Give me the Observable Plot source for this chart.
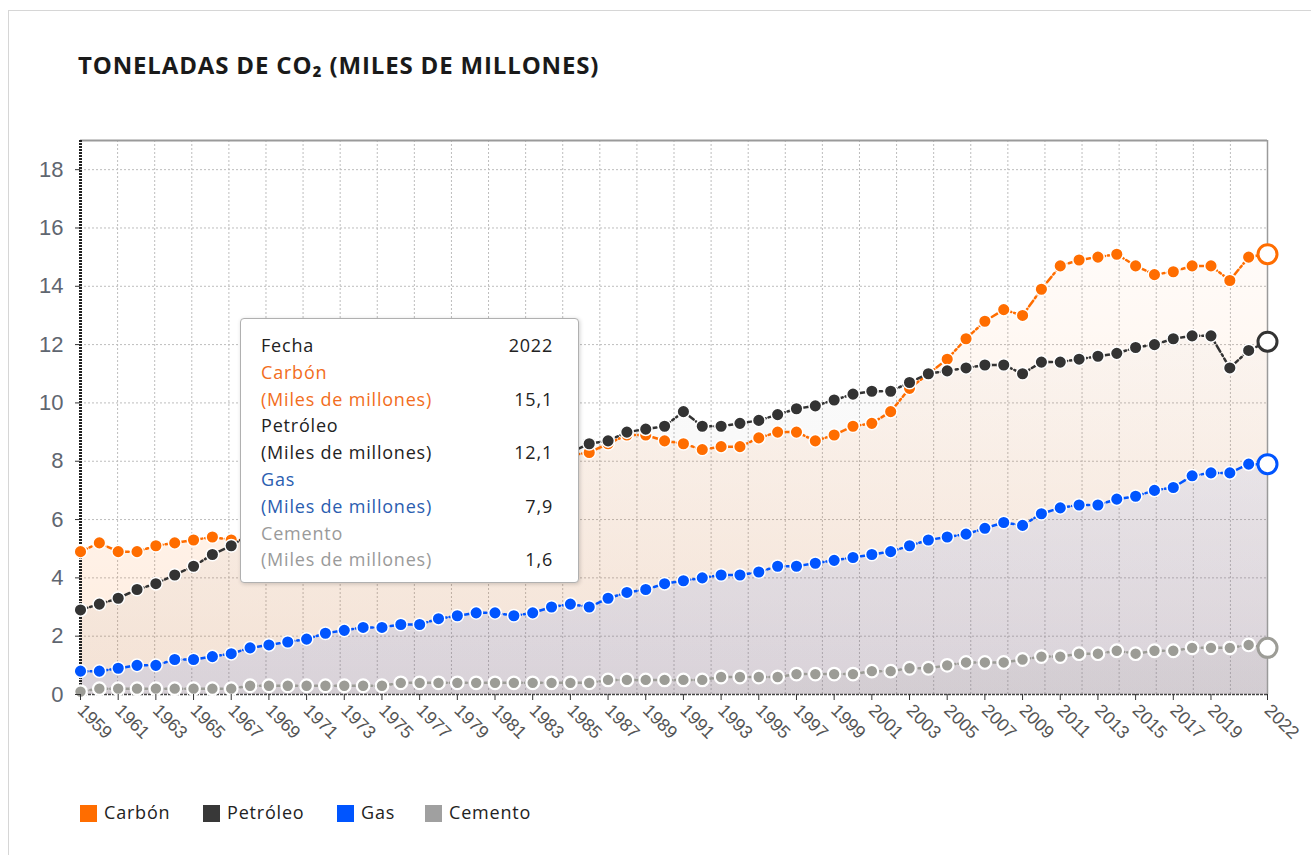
<!DOCTYPE html>
<html><head><meta charset="utf-8">
<script src="https://cdn.jsdelivr.net/npm/d3@7"></script>
<script src="https://cdn.jsdelivr.net/npm/@observablehq/plot@0.6"></script>
<style>
body{margin:0;background:#fff;font-family:"Open Sans",sans-serif;}
#frame{position:absolute;left:8px;top:10px;width:1400px;height:900px;border-left:1px solid #d6d6d6;border-top:1px solid #d6d6d6;}
#title{position:absolute;left:78px;top:48px;font:700 24px "Open Sans";color:#1a1a1a;letter-spacing:0.85px;}
#chart{position:absolute;left:0;top:100px;}
#tooltip{position:absolute;left:240px;top:318px;width:337px;height:263px;background:#fff;border:1.5px solid #b0b0b0;border-radius:4px;box-shadow:1px 1px 4px rgba(0,0,0,0.18);font:400 18px "Open Sans";letter-spacing:0.8px;}
#tooltip .row{position:absolute;left:20px;width:292px;height:26px;line-height:26px;}
#tooltip .row span.v{position:absolute;right:0;top:0;color:#222;}
#legend{position:absolute;left:0;top:800px;font:400 18px "Open Sans";color:#222;letter-spacing:0.8px;}
#legend .item{position:absolute;top:0;white-space:nowrap;height:24px;line-height:24px;}
#legend .sw{display:inline-block;width:17px;height:17px;vertical-align:-3px;margin-right:7px;}
</style></head>
<body>
<div id="frame"></div>
<div id="title">TONELADAS DE CO₂ (MILES DE MILLONES)</div>
<div id="chart"></div>
<div id="tooltip"></div>
<div id="legend"></div>
<script>
const years = [1959,1960,1961,1962,1963,1964,1965,1966,1967,1968,1969,1970,1971,1972,1973,1974,1975,1976,1977,1978,1979,1980,1981,1982,1983,1984,1985,1986,1987,1988,1989,1990,1991,1992,1993,1994,1995,1996,1997,1998,1999,2000,2001,2002,2003,2004,2005,2006,2007,2008,2009,2010,2011,2012,2013,2014,2015,2016,2017,2018,2019,2020,2021,2022];
const carbon = [4.9,5.2,4.9,4.9,5.1,5.2,5.3,5.4,5.3,
  5.3,5.4,5.5,5.5,5.6,5.6,5.8,5.8,6.1,6.2,6.5,6.7,6.8,6.8,7.0,7.4,7.8,8.2,
  8.3,8.6,8.9,8.9,8.7,8.6,8.4,8.5,8.5,8.8,9.0,9.0,8.7,8.9,9.2,9.3,9.7,10.5,11.0,11.5,12.2,12.8,13.2,13.0,13.9,14.7,14.9,15.0,15.1,14.7,14.4,14.5,14.7,14.7,14.2,15.0,15.1];
const petroleo = [2.9,3.1,3.3,3.6,3.8,4.1,4.4,4.8,5.1,
  5.5,6.0,6.5,6.9,7.4,7.9,7.7,7.6,8.1,8.3,8.6,8.5,8.1,7.9,7.8,7.8,8.0,8.3,
  8.6,8.7,9.0,9.1,9.2,9.7,9.2,9.2,9.3,9.4,9.6,9.8,9.9,10.1,10.3,10.4,10.4,10.7,11.0,11.1,11.2,11.3,11.3,11.0,11.4,11.4,11.5,11.6,11.7,11.9,12.0,12.2,12.3,12.3,11.2,11.8,12.1];
const gas = [0.8,0.8,0.9,1.0,1.0,1.2,1.2,1.3,1.4,1.6,
  1.7,1.8,1.9,2.1,2.2,2.3,2.3,2.4,2.4,2.6,
  2.7,2.8,2.8,2.7,2.8,3.0,3.1,3.0,3.3,3.5,
  3.6,3.8,3.9,4.0,4.1,4.1,4.2,4.4,4.4,4.5,
  4.6,4.7,4.8,4.9,5.1,5.3,5.4,5.5,5.7,5.9,
  5.8,6.2,6.4,6.5,6.5,6.7,6.8,7.0,7.1,7.5,
  7.6,7.6,7.9,7.9];
const cemento = [0.1,0.2,0.2,0.2,0.2,0.2,0.2,0.2,0.2,
  0.3,0.3,0.3,0.3,0.3,0.3,0.3,0.3,
  0.4,0.4,0.4,0.4,0.4,0.4,0.4,0.4,0.4,0.4,0.4,
  0.5,0.5,0.5,0.5,0.5,0.5,
  0.6,0.6,0.6,0.6,
  0.7,0.7,0.7,0.7,
  0.8,0.8,0.9,0.9,1.0,1.1,1.1,1.1,1.2,1.3,1.3,1.4,1.4,1.5,1.4,1.5,1.5,1.6,1.6,1.6,1.7,1.6];
const seriesNames = ["Carbón","Petróleo","Gas","Cemento"];
const seriesColors = ["#ff6d00","#333333","#0055ff","#9c9c96"];
const legendColors = ["#ff6d00","#383838","#0055ff","#a0a0a0"];
const tooltipColors = ["#f26d21","#222222","#2a5db0","#9a9a9a"];
const gradAlpha = [0.13,0.055,0.11,0.10];
const xTicks = [1959,1961,1963,1965,1967,1969,1971,1973,1975,1977,1979,1981,1983,1985,1987,1989,1991,1993,1995,1997,1999,2001,2003,2005,2007,2009,2011,2013,2015,2017,2019,2022];
const yTicks = [0,2,4,6,8,10,12,14,16,18];
const unitLabel = "(Miles de millones)";
const dateLabel = "Fecha";

const series = [carbon, petroleo, gas, cemento];
const data = series.map((vals, k) => years.map((year, i) => ({name: seriesNames[k], year, value: vals[i]})));

const W = 1311, H = 680, mL = 80, mR = 44, mT = 40, mB = 86;
const yMax = 19;
const x0 = years[0], x1 = years[years.length - 1];
const nGrid = 32;
const gridX = d3.range(1, nGrid).map(k => x0 + k * (x1 - x0) / nGrid);

const svgNS = "http://www.w3.org/2000/svg";
function defsMark(index, scales, values, dims) {
  const defs = document.createElementNS(svgNS, "defs");
  seriesColors.forEach((c, k) => {
    const g = document.createElementNS(svgNS, "linearGradient");
    g.setAttribute("id", "g" + k);
    g.setAttribute("gradientUnits", "userSpaceOnUse");
    g.setAttribute("x1", 0); g.setAttribute("x2", 0);
    g.setAttribute("y1", dims.marginTop);
    g.setAttribute("y2", dims.height - dims.marginBottom);
    const s1 = document.createElementNS(svgNS, "stop");
    s1.setAttribute("offset", "0"); s1.setAttribute("stop-color", c); s1.setAttribute("stop-opacity", 0);
    const s2 = document.createElementNS(svgNS, "stop");
    s2.setAttribute("offset", "1"); s2.setAttribute("stop-color", c); s2.setAttribute("stop-opacity", gradAlpha[k]);
    g.appendChild(s1); g.appendChild(s2);
    defs.appendChild(g);
  });
  return defs;
}

const marks = [defsMark];
marks.push(Plot.ruleY(yTicks.filter(d => d > 0), {stroke: "#bdbdbd", strokeWidth: 1, strokeDasharray: "2,2"}));
marks.push(Plot.ruleX(gridX, {y1: 0, y2: yMax, stroke: "#bdbdbd", strokeWidth: 1, strokeDasharray: "2,2"}));
data.forEach((d, k) => marks.push(Plot.areaY(d, {x: "year", y: "value", fill: `url(#g${k})`})));
marks.push(Plot.ruleY([yMax], {stroke: "#9a9a9a", strokeWidth: 2}));
marks.push(Plot.ruleX([x1], {y1: 0, y2: yMax, stroke: "#9a9a9a", strokeWidth: 1.5}));
marks.push(Plot.ruleY([0], {stroke: "#444", strokeWidth: 1.5, strokeDasharray: "3,1"}));
marks.push(Plot.ruleX([x0], {y1: 0, y2: yMax, stroke: "#222", strokeWidth: 3, strokeDasharray: "2,1"}));
data.forEach((d, k) => {
  marks.push(Plot.line(d, {x: "year", y: "value", stroke: seriesColors[k], strokeWidth: 2.5, strokeDasharray: "7,3,2,3"}));
  marks.push(Plot.dot(d.slice(0, -1), {x: "year", y: "value", r: 6.3, fill: seriesColors[k], stroke: "#fff", strokeWidth: k === 3 ? 2.2 : 1.5}));
  marks.push(Plot.dot(d.slice(-1), {x: "year", y: "value", r: 9.5, fill: "#fff", stroke: seriesColors[k], strokeWidth: 3}));
});
marks.push(Plot.axisY({ticks: yTicks, tickSize: 5, tickPadding: 12, fontSize: 22, fill: "#5f6670", stroke: "#333", label: null}));
marks.push(Plot.axisX({ticks: xTicks, tickFormat: d => String(d), tickRotate: 45, tickSize: 6, tickPadding: 7, fontSize: 18, fill: "#555", stroke: "#333", label: null}));

const plot = Plot.plot({
  width: W, height: H, marginLeft: mL, marginRight: mR, marginTop: mT, marginBottom: mB,
  x: {domain: [x0, x1]},
  y: {domain: [0, yMax]},
  style: {fontFamily: "'Liberation Sans', Arial, sans-serif", background: "transparent", overflow: "visible"},
  marks
});
document.getElementById("chart").appendChild(plot);

// tooltip
const tip = document.getElementById("tooltip");
const fmt = v => String(v).replace(".", ",");
const rows = [{label: dateLabel, color: "#222", value: String(x1)}];
seriesNames.forEach((n, k) => {
  rows.push({label: n, color: tooltipColors[k], value: ""});
  rows.push({label: unitLabel, color: tooltipColors[k], value: fmt(series[k][series[k].length - 1])});
});
rows.forEach((r, i) => {
  const div = document.createElement("div");
  div.className = "row";
  div.style.top = (13 + i * 26.8) + "px";
  div.style.color = r.color;
  div.textContent = r.label;
  if (r.value) { const s = document.createElement("span"); s.className = "v"; s.textContent = r.value; div.appendChild(s); }
  tip.appendChild(div);
});

// legend
const legend = document.getElementById("legend");
const legendLefts = [80, 203, 337, 425];
seriesNames.forEach((n, k) => {
  const it = document.createElement("div");
  it.className = "item";
  it.style.left = legendLefts[k] + "px";
  const sw = document.createElement("span");
  sw.className = "sw"; sw.style.background = legendColors[k];
  it.appendChild(sw);
  it.appendChild(document.createTextNode(n));
  legend.appendChild(it);
});
</script>
</body></html>
